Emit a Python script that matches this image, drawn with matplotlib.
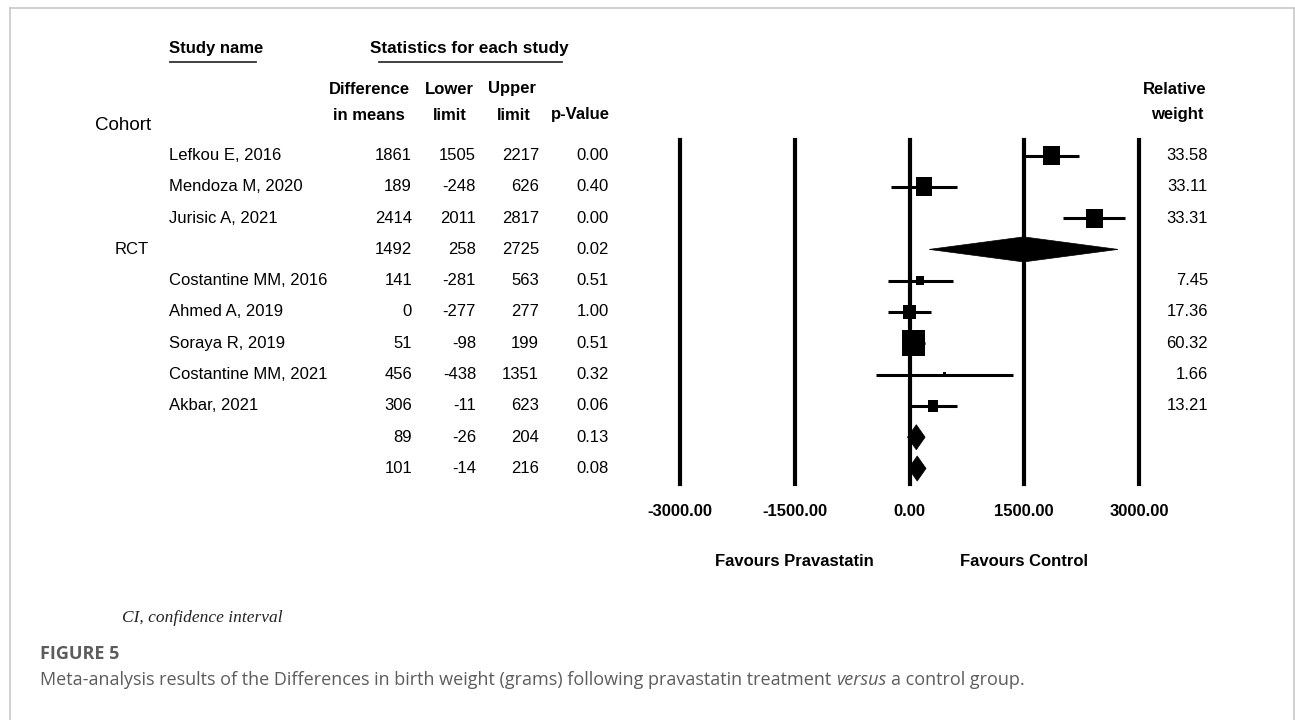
import matplotlib
matplotlib.use('Agg')
import matplotlib.pyplot as plt
import matplotlib.transforms as mtransforms
from matplotlib.patches import Rectangle, Polygon
from matplotlib.lines import Line2D
from matplotlib.offsetbox import TextArea, HPacker, AnchoredOffsetbox
import numpy as np

"""Forest plot: pravastatin vs control, difference in birth weight (grams)"""

studies = ['Lefkou E, 2016', 'Mendoza M, 2020', 'Jurisic A, 2021', '',
           'Costantine MM, 2016', 'Ahmed A, 2019', 'Soraya R, 2019',
           'Costantine MM, 2021', 'Akbar, 2021', '', '']
diff = [1861, 189, 2414, 1492, 141, 0, 51, 456, 306, 89, 101]
lower = [1505, -248, 2011, 258, -281, -277, -98, -438, -11, -26, -14]
upper = [2217, 626, 2817, 2725, 563, 277, 199, 1351, 623, 204, 216]
p_values = ['0.00', '0.40', '0.00', '0.02', '0.51', '1.00', '0.51', '0.32', '0.06', '0.13', '0.08']
weights = [33.58, 33.11, 33.31, None, 7.45, 17.36, 60.32, 1.66, 13.21, None, None]
is_summary = [False, False, False, True, False, False, False, False, False, True, True]
x_ticks = [-3000, -1500, 0, 1500, 3000]
x_tick_labels = ['-3000.00', '-1500.00', '0.00', '1500.00', '3000.00']

W, H = 1295, 720
SANS = 'Liberation Sans'


def fx(px):
    return px / W


def fy(py):
    return 1 - py / H


fig = plt.figure(figsize=(W / 100, H / 100), dpi=100)
fig.patch.set_facecolor('white')

# forest axes: x=-3000 at 680px, x=3000 at 1139px; rows 155px + 31.3px each
ax_left, ax_right = 680, 1139
ax_top, ax_bottom = 139.85, 484.15
ax = fig.add_axes([fx(ax_left), fy(ax_bottom), fx(ax_right - ax_left), (ax_bottom - ax_top) / H])
ax.set_xlim(-3000, 3000)
ax.set_ylim(10.5, -0.5)
for s in ax.spines.values():
    s.set_visible(False)
ax.set_yticks([])
ax.set_xticks(x_ticks)
ax.set_xticklabels(x_tick_labels, fontfamily=SANS, fontweight='bold', fontsize=12)
ax.tick_params(axis='x', length=0, pad=14)
ax.patch.set_alpha(0)

for t in x_ticks:
    ax.axvline(t, color='black', lw=3, clip_on=False, zorder=1)

px_to_x = 6000 / (ax_right - ax_left)
px_to_row = 1 / 31.3
for i in range(len(diff)):
    if is_summary[i]:
        h = 0.4
        pts = [(lower[i], i), (diff[i], i - h), (upper[i], i), (diff[i], i + h)]
        ax.add_patch(Polygon(pts, closed=True, facecolor='black', edgecolor='black', lw=0.5, zorder=3))
    else:
        ax.plot([lower[i], upper[i]], [i, i], color='black', lw=2.2, solid_capstyle='butt', zorder=2)
        w = 2.9 * np.sqrt(weights[i]) * px_to_x
        h = 3.3 * np.sqrt(weights[i]) * px_to_row
        ax.add_patch(Rectangle((diff[i] - w / 2, i - h / 2), w, h, facecolor='black', edgecolor='none', zorder=3))

ax.annotate('Favours Pravastatin', xy=(-1500, fy(562)), xycoords=('data', 'figure fraction'),
            ha='center', va='center', fontfamily=SANS, fontweight='bold', fontsize=12)
ax.annotate('Favours Control', xy=(1500, fy(562)), xycoords=('data', 'figure fraction'),
            ha='center', va='center', fontfamily=SANS, fontweight='bold', fontsize=12)

# table text: x in figure fraction, y in row units
row_tr = mtransforms.blended_transform_factory(fig.transFigure, ax.transData)
txt = dict(fontfamily=SANS, fontsize=12, va='center', transform=row_tr)
for i in range(len(diff)):
    fig.text(fx(169), i, studies[i], ha='left', **txt)
    fig.text(fx(412), i, str(diff[i]), ha='right', **txt)
    fig.text(fx(476), i, str(lower[i]), ha='right', **txt)
    fig.text(fx(539), i, str(upper[i]), ha='right', **txt)
    fig.text(fx(609), i, p_values[i], ha='right', **txt)
    if weights[i] is not None:
        fig.text(fx(1208), i, f'{weights[i]:.2f}', ha='right', **txt)
fig.text(fx(115), 3, 'RCT', ha='left', **txt)

hdr = dict(fontfamily=SANS, fontsize=12, fontweight='bold', va='center')
fig.text(fx(169), fy(48), 'Study name', ha='left', **hdr)
fig.text(fx(469), fy(48), 'Statistics for each study', ha='center', fontsize=12.3,
         **{k: v for k, v in hdr.items() if k != 'fontsize'})
fig.add_artist(Line2D([fx(170), fx(256)], [fy(62), fy(62)], color='#333333', lw=1.3))
fig.add_artist(Line2D([fx(379), fx(562)], [fy(62), fy(62)], color='#333333', lw=1.3))
fig.text(fx(369), fy(89), 'Difference', ha='center', **hdr)
fig.text(fx(369), fy(115), 'in means', ha='center', **hdr)
fig.text(fx(449), fy(89), 'Lower', ha='center', **hdr)
fig.text(fx(450), fy(115), 'limit', ha='center', **hdr)
fig.text(fx(512), fy(89), 'Upper', ha='center', **hdr)
fig.text(fx(514), fy(115), 'limit', ha='center', **hdr)
fig.text(fx(580), fy(115), 'p-Value', ha='center', **hdr)
fig.text(fx(1175), fy(89), 'Relative', ha='center', **hdr)
fig.text(fx(1177), fy(115), 'weight', ha='center', **hdr)
fig.text(fx(95), fy(126), 'Cohort', ha='left', va='center', fontfamily=SANS, fontsize=13.5)

fig.text(fx(122), fy(618), 'CI, confidence interval', ha='left', va='center',
         fontfamily='Liberation Serif', fontstyle='italic', fontsize=12.5, color='#222222')

cap_color = '#5c5c5c'
fig.text(fx(40), fy(654), 'FIGURE 5', ha='left', va='center', fontfamily='Open Sans',
         fontweight='bold', fontsize=13, color=cap_color)
cap_style = dict(fontfamily='Open Sans', fontsize=13, color=cap_color)
parts = [TextArea('Meta-analysis results of the Differences in birth weight (grams) following pravastatin treatment',
                  textprops=cap_style),
         TextArea('versus', textprops=dict(cap_style, fontstyle='italic')),
         TextArea('a control group.', textprops=cap_style)]
pack = HPacker(children=parts, sep=3.5, pad=0, align='baseline')
anch = AnchoredOffsetbox(loc='center left', child=pack, pad=0, borderpad=0, frameon=False,
                         bbox_to_anchor=(fx(40), fy(680)), bbox_transform=fig.transFigure)
fig.add_artist(anch)

# light frame around the figure panel
border = '#c8c8c8'
fig.add_artist(Line2D([fx(9.5), fx(9.5)], [0, fy(7.5)], color=border, lw=1.2))
fig.add_artist(Line2D([fx(9.5), fx(1294)], [fy(7.5), fy(7.5)], color=border, lw=1.2))
fig.add_artist(Line2D([fx(1294), fx(1294)], [0, fy(7.5)], color=border, lw=1.2))

fig.savefig('out.png', dpi=100, facecolor='white')
